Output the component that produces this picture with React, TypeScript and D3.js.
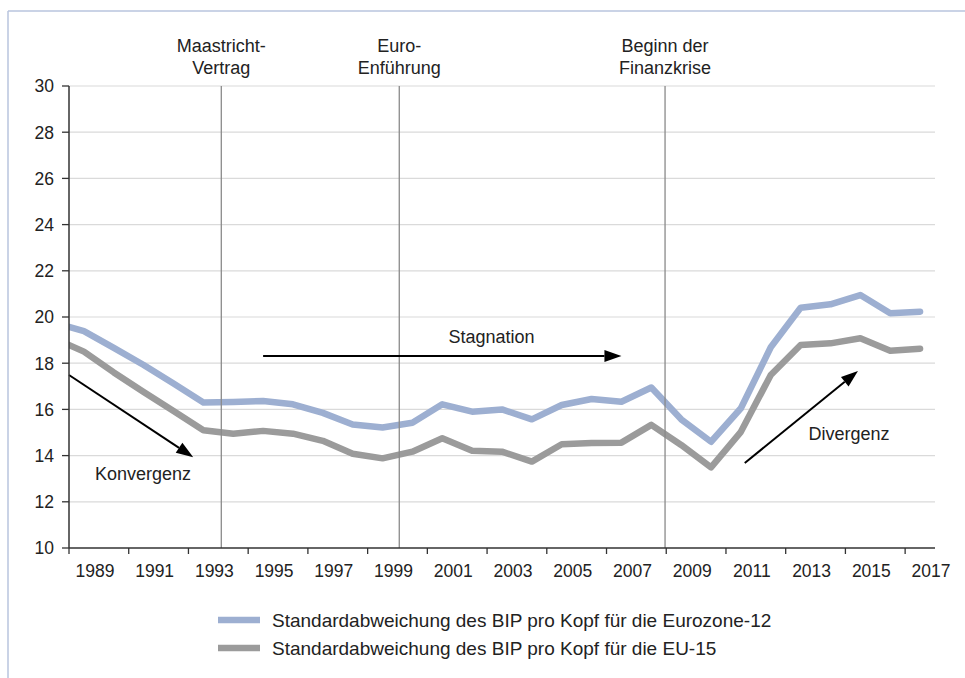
import React from "react";
import * as d3 from "d3";

const years = d3.range(1988, 2018);
const euroZone12 = [19.75, 19.39, 18.66, 17.92, 17.12, 16.30, 16.32, 16.36, 16.22, 15.85, 15.35, 15.22, 15.42, 16.22, 15.90, 16.00, 15.57, 16.19, 16.45, 16.33, 16.95, 15.57, 14.60, 16.05, 18.69, 20.40, 20.55, 20.95, 20.16, 20.23];
const eu15 = [19.08, 18.50, 17.60, 16.75, 15.93, 15.10, 14.95, 15.07, 14.95, 14.64, 14.08, 13.88, 14.17, 14.75, 14.21, 14.17, 13.74, 14.49, 14.55, 14.56, 15.33, 14.46, 13.49, 15.03, 17.49, 18.79, 18.86, 19.08, 18.54, 18.63];
const yTicks = [10, 12, 14, 16, 18, 20, 22, 24, 26, 28, 30];
const xLabelYears = d3.range(1989, 2018, 2);
const xTickYears = d3.range(1988.5, 2017, 2);
const events = [
  { pos: 1993.6, lines: ["Maastricht-", "Vertrag"] },
  { pos: 1999.56, lines: ["Euro-", "Enführung"] },
  { pos: 2008.46, lines: ["Beginn der", "Finanzkrise"] },
];
const arrows = [
  { x1: 1988.5, y1: 17.49, x2: 1992.66, y2: 13.93 },
  { x1: 1995.0, y1: 18.31, x2: 2007.0, y2: 18.31 },
  { x1: 2011.13, y1: 13.68, x2: 2014.92, y2: 17.66 },
];
const annotations = [
  { x: 1990.98, y: 12.94, text: "Konvergenz" },
  { x: 2002.65, y: 18.87, text: "Stagnation" },
  { x: 2014.62, y: 14.68, text: "Divergenz" },
];
const legendItems = [
  { label: "Standardabweichung des BIP pro Kopf für die Eurozone-12", color: "#9dafd1" },
  { label: "Standardabweichung des BIP pro Kopf für die EU-15", color: "#9b9b9b" },
];

const W = 965, H = 678;
const left = 69, right = 935, top = 86, bottom = 548;
const FONT = "'Liberation Sans', Arial, Helvetica, sans-serif";
const FS = 18;
const FS_AXIS = 17.5;
const FS_LEG = 19;

export default function App() {
  const x = d3.scaleLinear().domain([1988.5, 2017.5]).range([left, right]);
  const y = d3.scaleLinear().domain([10, 30]).range([bottom, top]);
  const line = d3.line<number>().x((_, i) => x(years[i])).y((d) => y(d));
  const series = [
    { values: euroZone12, color: legendItems[0].color },
    { values: eu15, color: legendItems[1].color },
  ];
  const txt = "#222";
  return (
    <svg width={W} height={H} style={{ position: "absolute", left: 0, top: 0, background: "#fff" }} fontFamily={FONT}>
      <defs>
        <clipPath id="plot">
          <rect x={left} y={top - 10} width={right - left + 20} height={bottom - top + 10} />
        </clipPath>
      </defs>
      <rect x={0} y={0} width={W} height={H} fill="#fff" />
      <line x1={8} y1={11} x2={W} y2={11} stroke="#b9c4de" strokeWidth={1.5} />
      <line x1={8} y1={11} x2={8} y2={H} stroke="#b9c4de" strokeWidth={1.5} />
      {yTicks.filter((t) => t !== 10).map((t) => (
        <line key={"g" + t} x1={left} x2={right} y1={y(t)} y2={y(t)} stroke="#dadada" strokeWidth={1.2} />
      ))}
      <g clipPath="url(#plot)">
        {series.map((s, i) => (
          <path key={i} d={line(s.values) || ""} fill="none" stroke={s.color} strokeWidth={6.5} strokeLinejoin="round" strokeLinecap="round" />
        ))}
      </g>
      {events.map((e, i) => (
        <g key={"e" + i}>
          <line x1={x(e.pos)} x2={x(e.pos)} y1={top} y2={bottom} stroke="#8a8a8a" strokeWidth={1.3} />
          {e.lines.map((l, j) => (
            <text key={j} x={x(e.pos)} y={52 + j * 22.3} textAnchor="middle" fontSize={FS} fill={txt}>{l}</text>
          ))}
        </g>
      ))}
      {arrows.map((a, i) => {
        const x1 = x(a.x1), y1 = y(a.y1), x2 = x(a.x2), y2 = y(a.y2);
        const ang = Math.atan2(y2 - y1, x2 - x1);
        const L = 17, hw = 6;
        const bx = x2 - L * Math.cos(ang), by = y2 - L * Math.sin(ang);
        const px = -Math.sin(ang) * hw, py = Math.cos(ang) * hw;
        return (
          <g key={"a" + i}>
            <line x1={x1} y1={y1} x2={bx} y2={by} stroke="#000" strokeWidth={2} />
            <path d={`M${x2},${y2} L${bx + px},${by + py} L${bx - px},${by - py} Z`} fill="#000" />
          </g>
        );
      })}
      {annotations.map((a, i) => (
        <text key={"t" + i} x={x(a.x)} y={y(a.y)} textAnchor="middle" fontSize={FS} fill={txt}>{a.text}</text>
      ))}
      <line x1={left} x2={left} y1={top} y2={bottom} stroke="#333" strokeWidth={1.5} />
      <line x1={left} x2={right} y1={bottom} y2={bottom} stroke="#333" strokeWidth={1.5} />
      {yTicks.map((t) => (
        <g key={"y" + t}>
          <line x1={left - 7} x2={left} y1={y(t)} y2={y(t)} stroke="#333" strokeWidth={1.3} />
          <text x={54} y={y(t)} dy="0.36em" textAnchor="end" fontSize={FS_AXIS} fill={txt}>{t}</text>
        </g>
      ))}
      {xTickYears.map((t) => (
        <line key={"xt" + t} x1={x(t)} x2={x(t)} y1={bottom} y2={bottom + 6} stroke="#333" strokeWidth={1.3} />
      ))}
      {xLabelYears.map((t) => (
        <text key={"xl" + t} x={x(t) + 11} y={577} textAnchor="middle" fontSize={FS_AXIS} fill={txt}>{t}</text>
      ))}
      {legendItems.map((l, i) => (
        <g key={"l" + i}>
          <line x1={218} x2={260} y1={620 + i * 28} y2={620 + i * 28} stroke={l.color} strokeWidth={6.5} />
          <text x={272} y={627 + i * 28} fontSize={FS_LEG} fill={txt}>{l.label}</text>
        </g>
      ))}
    </svg>
  );
}
